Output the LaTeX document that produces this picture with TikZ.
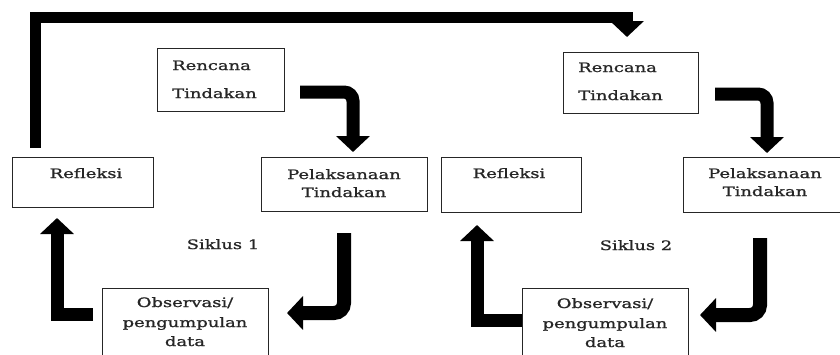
\documentclass[tikz,border=0pt]{standalone}
\usepackage{fontspec}
\newfontfamily\df{DejaVu Serif}[FakeStretch=1.38,FakeBold=1.2]
\usetikzlibrary{arrows.meta}
\begin{document}
\begin{tikzpicture}[x=1pt,y=-1pt,
  box/.style={draw=black!85, line width=1pt, inner sep=0pt, anchor=north west},
  txt/.style={font=\df\fontsize{13}{18}\selectfont, text=black!85, inner sep=0pt},
  bigarrow/.style={line width=13pt, -{Triangle[width=33pt,length=16pt]}},
]
\useasboundingbox (0,0) rectangle (840,354);
% boxes
\node[box, minimum width=127pt, minimum height=63pt] (r1) at (157,48) {};
\node[box, minimum width=135pt, minimum height=61pt] (r2) at (563,52) {};
\node[box, minimum width=141pt, minimum height=50pt] (f1) at (12,157) {};
\node[box, minimum width=140pt, minimum height=55pt] (f2) at (441,157) {};
\node[box, minimum width=166pt, minimum height=54pt] (p1) at (261,157) {};
\node[box, minimum width=165pt, minimum height=55pt] (p2) at (683,157) {};
\node[box, minimum width=166pt, minimum height=80pt] (o1) at (102,288) {};
\node[box, minimum width=166pt, minimum height=80pt] (o2) at (522,288) {};
% texts
\node[txt, anchor=base west] (r1a) at (172,70) {Rencana};
\node[txt, anchor=base west] (r1b) at (172,98) {Tindakan};
\node[txt, anchor=base west] (r2a) at (578,72) {Rencana};
\node[txt, anchor=base west] (r2b) at (578,100) {Tindakan};
\node[txt, anchor=base] (f1t) at (86,178) {Refleksi};
\node[txt, anchor=base] (f2t) at (509,178) {Refleksi};
\node[txt, anchor=base] (p1a) at (344,179) {Pelaksanaan};
\node[txt, anchor=base] (p1b) at (344,197) {Tindakan};
\node[txt, anchor=base] (p2a) at (765,178) {Pelaksanaan};
\node[txt, anchor=base] (p2b) at (765,196) {Tindakan};
\node[txt, anchor=base] (o1a) at (185,307) {Observasi/};
\node[txt, anchor=base] (o1b) at (185,327) {pengumpulan};
\node[txt, anchor=base] (o1c) at (185,346) {data};
\node[txt, anchor=base] (o2a) at (605,308) {Observasi/};
\node[txt, anchor=base] (o2b) at (605,328) {pengumpulan};
\node[txt, anchor=base] (o2c) at (605,347) {data};
\node[txt, anchor=base] (s1) at (223,249) {Siklus 1};
\node[txt, anchor=base] (s2) at (636,250) {Siklus 2};
% connector end points
\coordinate (t0) at (35,148);
\coordinate (t1) at (627,37);
\coordinate (a0) at (300,92);
\coordinate (a1) at (353,152);
\coordinate (b0) at (715,94);
\coordinate (b1) at (767,153);
\coordinate (c0) at (344,233);
\coordinate (c1) at (287,313);
\coordinate (d0) at (760,238);
\coordinate (d1) at (700,315);
\coordinate (e0) at (93,314);
\coordinate (e1) at (57,218);
\coordinate (g0) at (o2.west |- 0,320);
\coordinate (g1) at (477,225);
% connectors
\draw[bigarrow, line width=11pt] (t0) -- (35,17) -| (t1);
\draw[bigarrow, rounded corners=9pt] (a0) -| (a1);
\draw[bigarrow, rounded corners=9pt] (b0) -| (b1);
\draw[bigarrow, line width=14pt, rounded corners=10pt] (c0) |- (c1);
\draw[bigarrow, line width=14pt, rounded corners=10pt] (d0) |- (d1);
\draw[bigarrow] (e0) -| (e1);
\draw[bigarrow] (g0) -| (g1);
\end{tikzpicture}
\end{document}
